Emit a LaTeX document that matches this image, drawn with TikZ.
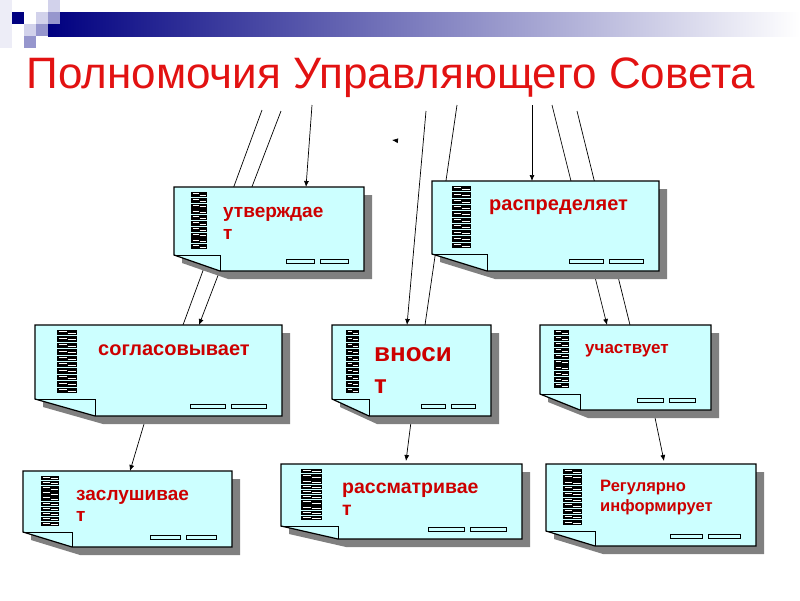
\documentclass[tikz,border=0pt]{standalone}
\usepackage{fontspec}
\setmainfont{Liberation Sans}
\usetikzlibrary{arrows.meta}

\definecolor{cardfill}{RGB}{204,255,255}
\definecolor{verbred}{RGB}{204,0,0}
\definecolor{titlered}{RGB}{226,18,18}
\definecolor{barnavy}{RGB}{0,0,128}
\definecolor{lavmid}{RGB}{150,150,205}
\definecolor{lavpale}{RGB}{210,210,235}

\tikzset{
  cardbody/.style={fill=cardfill, draw=black, line width=1.2pt},
  cardshadow/.style={fill=black!50},
  flapline/.style={draw=black, line width=1pt},
  dashbox/.style={draw=black, line width=0.8pt},
  feed/.style={draw=black, line width=0.7pt},
  feedarrow/.style={feed, -{Latex[length=6pt,width=5pt]}},
  verb/.style={text=verbred, anchor=base west, inner sep=0pt, align=left, font=\bfseries},
}

% left, top, right, bottom, fold y, fold x, spiral x, spiral width, dash width
\newcommand{\notecard}[9]{%
  \fill[cardshadow, shift={(8,8)}] (#1,#2) -- (#3,#2) -- (#3,#4) -- (#6,#4) -- (#1,#5) -- cycle;
  \path[cardbody] (#1,#2) -- (#3,#2) -- (#3,#4) -- (#6,#4) -- (#1,#5) -- cycle;
  \draw[flapline] (#1,#5) -- (#6,#5) -- (#6,#4);
  \pgfmathsetmacro{\pitch}{(#5-#2-10)/10}
  \foreach \k in {0,...,9} {
    \fill[black] (#7,{#2+5+\k*\pitch}) rectangle ++(#8,{0.85*\pitch});
    \draw[white, line width=0.9pt] ({#7+1.5},{#2+5+\k*\pitch+0.3*\pitch}) -- ++({0.5*#8-2},0)
      ({#7+0.5*#8+0.5},{#2+5+\k*\pitch+0.55*\pitch}) -- ++({0.5*#8-2},0);
  }
  \draw[dashbox] ({#3-16-2*#9-6},{#4-12}) rectangle ++(#9,4);
  \draw[dashbox] ({#3-16-#9},{#4-12}) rectangle ++(#9,4);
}

\begin{document}
\begin{tikzpicture}[x=1pt, y=-1pt]
  \useasboundingbox (0,0) rectangle (800,600);

  % header bar and squares
  \fill[lavpale!40] (0,0) rectangle (12,48);
  \shade[left color=barnavy, right color=white] (48,12) rectangle (800,36);
  \fill[barnavy] (12,12) rectangle (24,24);
  \fill[lavpale] (48,0) rectangle (60,12);
  \fill[lavpale] (36,12) rectangle (48,24);
  \fill[lavmid] (48,12) rectangle (60,24);
  \fill[lavpale] (24,24) rectangle (36,36);
  \fill[lavmid] (36,24) rectangle (48,36);
  \fill[lavmid] (24,36) rectangle (36,48);

  \node[text=titlered, anchor=base, font=\fontsize{44}{50}\selectfont] (title) at (391,88)
    {Полномочия Управляющего Совета};

  % free ends of the connectors
  \coordinate (a1) at (262,110);
  \coordinate (b1) at (281,111);
  \coordinate (c1) at (312,105);
  \coordinate (d1) at (426,111);
  \coordinate (e1) at (457,105);
  \coordinate (f1) at (532,105);
  \coordinate (g1) at (552,105);
  \coordinate (h1) at (577,111);
  \coordinate (i1) at (147,414);
  \coordinate (j1) at (412,414);
  \coordinate (k1) at (653,408);
  \coordinate (tip0) at (396,140.5);
  \coordinate (tip1) at (392,140);

  % ends on the cards
  \coordinate (a2) at (183,325);
  \coordinate (b2) at (199,325);
  \coordinate (c2) at (306,187);
  \coordinate (d2) at (407,325);
  \coordinate (e2) at (425,325);
  \coordinate (f2) at (532,181);
  \coordinate (g2) at (607,325);
  \coordinate (h2) at (630,325);
  \coordinate (i2) at (130,471);
  \coordinate (j2) at (406,461);
  \coordinate (k2) at (664,461);

  \draw[feed] (a1) -- (a2);
  \draw[feedarrow] (b1) -- (b2);
  \draw[feedarrow] (c1) -- (c2);
  \draw[feedarrow] (d1) -- (d2);
  \draw[feed] (e1) -- (e2);
  \draw[feedarrow] (f1) -- (f2);
  \draw[feedarrow] (g1) -- (g2);
  \draw[feed] (h1) -- (h2);
  \draw[feedarrow] (i1) -- (i2);
  \draw[feedarrow] (j1) -- (j2);
  \draw[feedarrow] (k1) -- (k2);
  \draw[feedarrow] (tip0) -- (tip1);

  % cards
  \notecard{174}{187}{364}{271}{255}{220}{191}{16}{28}
  \notecard{432}{181}{659}{271}{254}{487}{452}{19}{34}
  \notecard{35}{325}{282}{416}{399}{95}{57}{20}{35}
  \notecard{332}{325}{491}{416}{399}{369}{346}{13}{24}
  \notecard{540}{325}{711}{410}{394}{580}{554}{15}{26}
  \notecard{23}{471}{232}{547}{532}{72}{41}{18}{30}
  \notecard{281}{464}{522}{539}{526}{338}{301}{21}{36}
  \notecard{546}{464}{756}{546}{531}{595}{563}{19}{32}

  % two-line nodes are placed by the baseline of their last line
  \node[verb, font=\bfseries\fontsize{19}{22}\selectfont] (approves) at (223,239) {утверждае\\т};
  \node[verb, font=\bfseries\fontsize{20}{24}\selectfont] (distributes) at (489,210) {распределяет};
  \node[verb, font=\bfseries\fontsize{20}{24}\selectfont] (agrees) at (98,355) {согласовывает};
  \node[verb, font=\bfseries\fontsize{26}{32}\selectfont] (submits) at (374,393) {вноси\\т};
  \node[verb, font=\bfseries\fontsize{17}{20}\selectfont] (takespart) at (585,353) {участвует};
  \node[verb, font=\bfseries\fontsize{19}{21}\selectfont] (hears) at (76,521) {заслушивае\\т};
  \node[verb, font=\bfseries\fontsize{19.5}{22}\selectfont] (reviews) at (342,515) {рассматривае\\т};
  \node[verb, font=\bfseries\fontsize{16.5}{20}\selectfont] (informs) at (600,511) {Регулярно\\информирует};
\end{tikzpicture}
\end{document}
